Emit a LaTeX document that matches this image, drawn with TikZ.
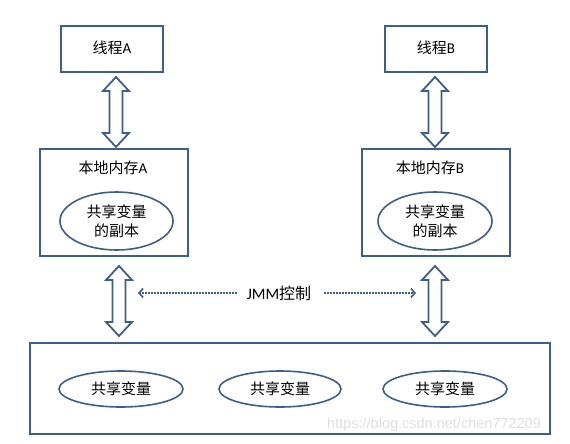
\documentclass[tikz,border=0pt]{standalone}
\usepackage{fontspec}
\setmainfont{Carlito}
\newfontfamily\cjk{Noto Sans CJK SC}
\newfontfamily\wmfont{Liberation Sans}
\usetikzlibrary{shapes.geometric,arrows.meta,calc}
\definecolor{frame}{RGB}{60,94,140}
\definecolor{wm}{RGB}{222,222,222}
\tikzset{
  box/.style={draw=frame,line width=2pt,rectangle,inner sep=0pt},
  oval/.style={draw=frame,line width=1.6pt,ellipse,inner sep=0pt,align=center,font=\fontsize{15}{19}\selectfont},
  lbl/.style={font=\fontsize{15}{19}\selectfont,inner sep=0pt},
  fat/.style={draw=frame,line width=1.8pt,fill=white,line join=miter},
  ctrl/.style={draw=frame,line width=2pt,dash pattern=on 1.5pt off 1.5pt,-{Straight Barb[length=4pt,width=9pt,line width=1.6pt]}},
}
\newcommand\vfatarrow[2]{%
  \path[fat] let \p1=#1, \p2=#2 in
    (\x1,\y1) -- ($(\x1,\y1)+(13,14)$) -- ($(\x1,\y1)+(6.5,14)$)
    -- ($(\x1,\y2)+(6.5,-14)$) -- ($(\x1,\y2)+(13,-14)$) -- (\x1,\y2)
    -- ($(\x1,\y2)+(-13,-14)$) -- ($(\x1,\y2)+(-6.5,-14)$)
    -- ($(\x1,\y1)+(-6.5,14)$) -- ($(\x1,\y1)+(-13,14)$) -- cycle;}
\begin{document}
\begin{tikzpicture}[x=1pt,y=-1pt]
\useasboundingbox (0,0) rectangle (570,444);
% thread boxes
\node[box,minimum width=102pt,minimum height=46pt] (ta) at (112,49) {};
\node[lbl] (tat) at (112,48) {{\cjk 线程}A};
\node[box,minimum width=102pt,minimum height=46pt] (tb) at (436,49) {};
\node[lbl] (tbt) at (436,48) {{\cjk 线程}B};
% local memory boxes
\node[box,minimum width=148pt,minimum height=107pt] (la) at (114,202.5) {};
\node[lbl] (lat) at (113,168) {{\cjk 本地内存}A};
\node[oval,minimum width=113pt,minimum height=58pt] (ea) at (116.5,221) {\cjk 共享变量\\\cjk 的副本};
\node[box,minimum width=148pt,minimum height=107pt] (lb) at (436,202.5) {};
\node[lbl] (lbt) at (430,168) {{\cjk 本地内存}B};
\node[oval,minimum width=114pt,minimum height=58pt] (eb) at (435,221) {\cjk 共享变量\\\cjk 的副本};
% main memory
\node[box,minimum width=520pt,minimum height=91pt] (mm) at (290,388.5) {};
\node[oval,minimum width=124pt,minimum height=36pt] (s1) at (121,389) {\cjk 共享变量};
\node[oval,minimum width=122pt,minimum height=36pt] (s2) at (280,389) {\cjk 共享变量};
\node[oval,minimum width=124pt,minimum height=36pt] (s3) at (445,389) {\cjk 共享变量};
% fat double arrows
\coordinate (a1t) at ($(ta.south)+(4,4)$);
\coordinate (a1b) at ($(la.north)+(2,-1)$);
\vfatarrow{(a1t)}{(a1b)}
\coordinate (a2t) at ($(tb.south)+(-1,4)$);
\coordinate (a2b) at ($(lb.north)+(-1,-1)$);
\vfatarrow{(a2t)}{(a2b)}
\coordinate (a3t) at ($(la.south)+(5,9)$);
\coordinate (a3b) at ($(mm.north west)+(89,-6)$);
\vfatarrow{(a3t)}{(a3b)}
\coordinate (a4t) at ($(lb.south)+(-1,9)$);
\coordinate (a4b) at ($(mm.north west)+(405,-6)$);
\vfatarrow{(a4t)}{(a4b)}
% JMM control
\node[lbl,font=\fontsize{16}{19}\selectfont] (jmm) at (279,293) {JMM{\cjk 控制}};
\coordinate (cl) at (138,293);
\coordinate (cr) at (416,293);
\draw[ctrl] ($(jmm.west)+(-10,0)$) -- (cl);
\draw[ctrl] ($(jmm.east)+(13,0)$) -- (cr);
% watermark
\node[font=\wmfont\fontsize{14.5}{16}\selectfont,text=wm,inner sep=0pt,anchor=west] (wmk) at (327,425) {https://blog.csdn.net/chen772209};
\end{tikzpicture}
\end{document}
